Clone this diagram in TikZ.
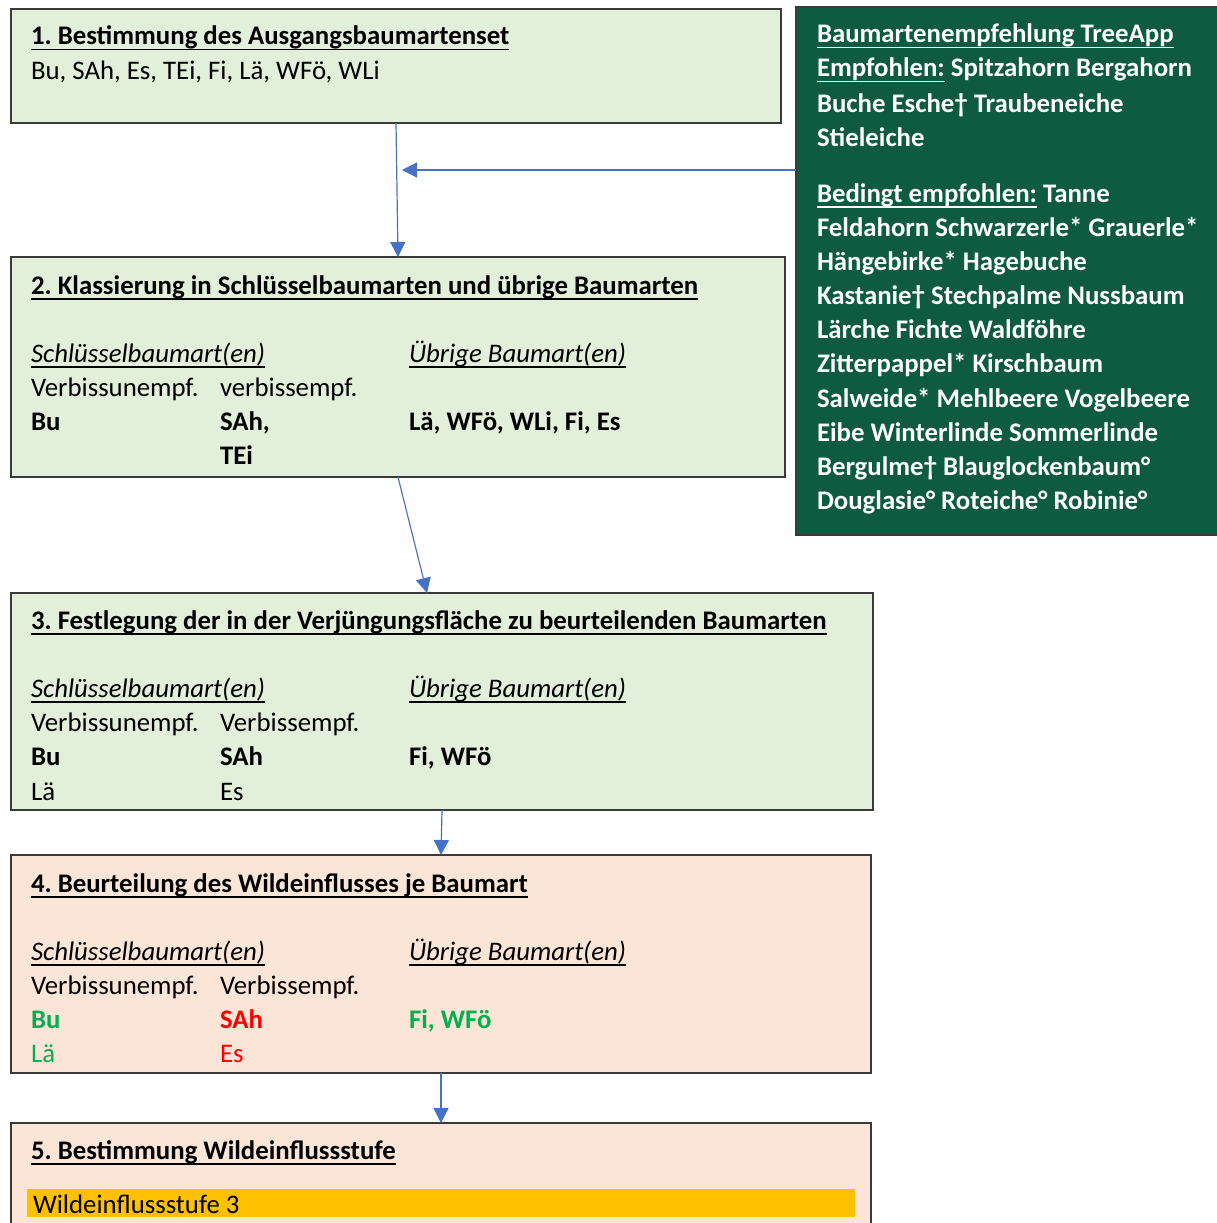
\documentclass[tikz,border=0pt]{standalone}
\usepackage{fontspec}
\setmainfont{Carlito}
\usetikzlibrary{arrows.meta,calc}
\definecolor{stepgreen}{HTML}{E2EFDA}
\definecolor{steppeach}{HTML}{FBE5D6}
\definecolor{treegreen}{HTML}{0E5B41}
\definecolor{edge}{HTML}{3A3A3A}
\definecolor{linkblue}{HTML}{4472C4}
\definecolor{goodgreen}{HTML}{00B050}
\definecolor{badred}{HTML}{FF0000}
\definecolor{amber}{HTML}{FFC000}
\frenchspacing
% underline at a fixed depth below the baseline, through descenders
\newcommand{\wordul}[1]{\leavevmode\setbox0\hbox{#1}\rlap{\rule[-5.5pt]{\wd0}{1.5pt}}\box0\relax}
\newcommand{\bodysize}{\fontsize{26.8}{34}\selectfont}
\begin{document}
\begin{tikzpicture}[x=1pt,y=-1pt,
  box/.style={draw=edge, line width=1.3pt, anchor=north west, inner sep=0pt, outer sep=0pt},
  txt/.style={anchor=base west, inner sep=0pt, outer sep=0pt, font=\bodysize},
  ttl/.style={txt, font=\bodysize\bfseries},
  ital/.style={txt, font=\bodysize\itshape},
  wtxt/.style={txt, text=white, font=\bodysize\bfseries},
  link/.style={draw=linkblue, line width=1.2pt, -{Triangle[length=15pt,width=15pt]}}]
\useasboundingbox (0,0) rectangle (1217,1223);
\clip (0,0) rectangle (1217,1223);

% step boxes
\node[box, fill=stepgreen, minimum width=770pt, minimum height=114pt] (b1) at (11,9) {};
\node[box, fill=stepgreen, minimum width=774pt, minimum height=220pt] (b2) at (11,257) {};
\node[box, fill=stepgreen, minimum width=862pt, minimum height=217pt] (b3) at (11,593) {};
\node[box, fill=steppeach, minimum width=860pt, minimum height=218pt] (b4) at (11,855) {};
\node[box, fill=steppeach, minimum width=860pt, minimum height=130pt] (b5) at (11,1123) {};
\node[box, fill=treegreen, minimum width=430pt, minimum height=528pt] (tree) at (796,7) {};
\node[anchor=north west, fill=amber, inner sep=0pt, outer sep=0pt, minimum width=828pt, minimum height=28pt] (bar) at (27,1189) {};

% step 1
\node[ttl] (t1) at (31,45) {\wordul{1. Bestimmung des Ausgangsbaumartenset}};
\node[txt] (t1a) at (31,79) {Bu, SAh, Es, TEi, Fi, Lä, WFö, WLi};

% step 2
\node[ttl] (t2) at (31,294) {\wordul{2. Klassierung in Schlüsselbaumarten und übrige Baumarten}};
\node[ital] (t2k) at (31,362) {\wordul{Schlüsselbaumart(en)}};
\node[ital] (t2u) at (409,362) {\wordul{Übrige Baumart(en)}};
\node[txt] (t2v1) at (31,396) {Verbissunempf.};
\node[txt] (t2v2) at (220,396) {verbissempf.};
\node[ttl] (t2a) at (31,430) {Bu};
\node[ttl] (t2b) at (220,430) {SAh,};
\node[ttl] (t2c) at (409,430) {Lä, WFö, WLi, Fi, Es};
\node[ttl] (t2d) at (220,464) {TEi};

% step 3
\node[ttl] (t3) at (31,629) {\wordul{3. Festlegung der in der Verjüngungsfläche zu beurteilenden Baumarten}};
\node[ital] (t3k) at (31,697) {\wordul{Schlüsselbaumart(en)}};
\node[ital] (t3u) at (409,697) {\wordul{Übrige Baumart(en)}};
\node[txt] (t3v1) at (31,731) {Verbissunempf.};
\node[txt] (t3v2) at (220,731) {Verbissempf.};
\node[ttl] (t3a) at (31,765) {Bu};
\node[ttl] (t3b) at (220,765) {SAh};
\node[ttl] (t3c) at (409,765) {Fi, WFö};
\node[txt] (t3d) at (31,800) {Lä};
\node[txt] (t3e) at (220,800) {Es};

% step 4
\node[ttl] (t4) at (31,892) {\wordul{4. Beurteilung des Wildeinflusses je Baumart}};
\node[ital] (t4k) at (31,960) {\wordul{Schlüsselbaumart(en)}};
\node[ital] (t4u) at (409,960) {\wordul{Übrige Baumart(en)}};
\node[txt] (t4v1) at (31,994) {Verbissunempf.};
\node[txt] (t4v2) at (220,994) {Verbissempf.};
\node[ttl, text=goodgreen] (t4a) at (31,1028) {Bu};
\node[ttl, text=badred] (t4b) at (220,1028) {SAh};
\node[ttl, text=goodgreen] (t4c) at (409,1028) {Fi, WFö};
\node[txt, text=goodgreen] (t4d) at (31,1062) {Lä};
\node[txt, text=badred] (t4e) at (220,1062) {Es};

% step 5
\node[ttl] (t5) at (31,1159) {\wordul{5. Bestimmung Wildeinflussstufe}};
\node[txt] (t5a) at (33,1213) {Wildeinflussstufe 3};

% species recommendation panel
\node[wtxt] (g1) at (817,43) {\wordul{Baumartenempfehlung TreeApp}};
\node[wtxt] (g2) at (817,77) {\wordul{Empfohlen:} Spitzahorn Bergahorn};
\node[wtxt] (g3) at (817,112) {Buche Esche† Traubeneiche};
\node[wtxt] (g4) at (817,146) {Stieleiche};
\node[wtxt] (g5) at (817,202) {\wordul{Bedingt empfohlen:} Tanne};
\node[wtxt] (g6) at (817,236) {Feldahorn Schwarzerle* Grauerle*};
\node[wtxt] (g7) at (817,270) {Hängebirke* Hagebuche};
\node[wtxt] (g8) at (817,304) {Kastanie† Stechpalme Nussbaum};
\node[wtxt] (g9) at (817,338) {Lärche Fichte Waldföhre};
\node[wtxt] (g10) at (817,372) {Zitterpappel* Kirschbaum};
\node[wtxt] (g11) at (817,407) {Salweide* Mehlbeere Vogelbeere};
\node[wtxt] (g12) at (817,441) {Eibe Winterlinde Sommerlinde};
\node[wtxt] (g13) at (817,475) {Bergulme† Blauglockenbaum°};
\node[wtxt] (g14) at (817,509) {Douglasie° Roteiche° Robinie°};

% connectors
\coordinate (join) at (402,170);
\draw[link] (b1.south) -- (b2.north);
\draw[link] (tree.west |- join) -- (join);
\draw[link] (b2.south) -- ($(b3.north west)+(416,0)$);
\draw[link] (b3.south) -- (b4.north);
\draw[link] (b4.south) -- (b5.north);
\end{tikzpicture}
\end{document}
